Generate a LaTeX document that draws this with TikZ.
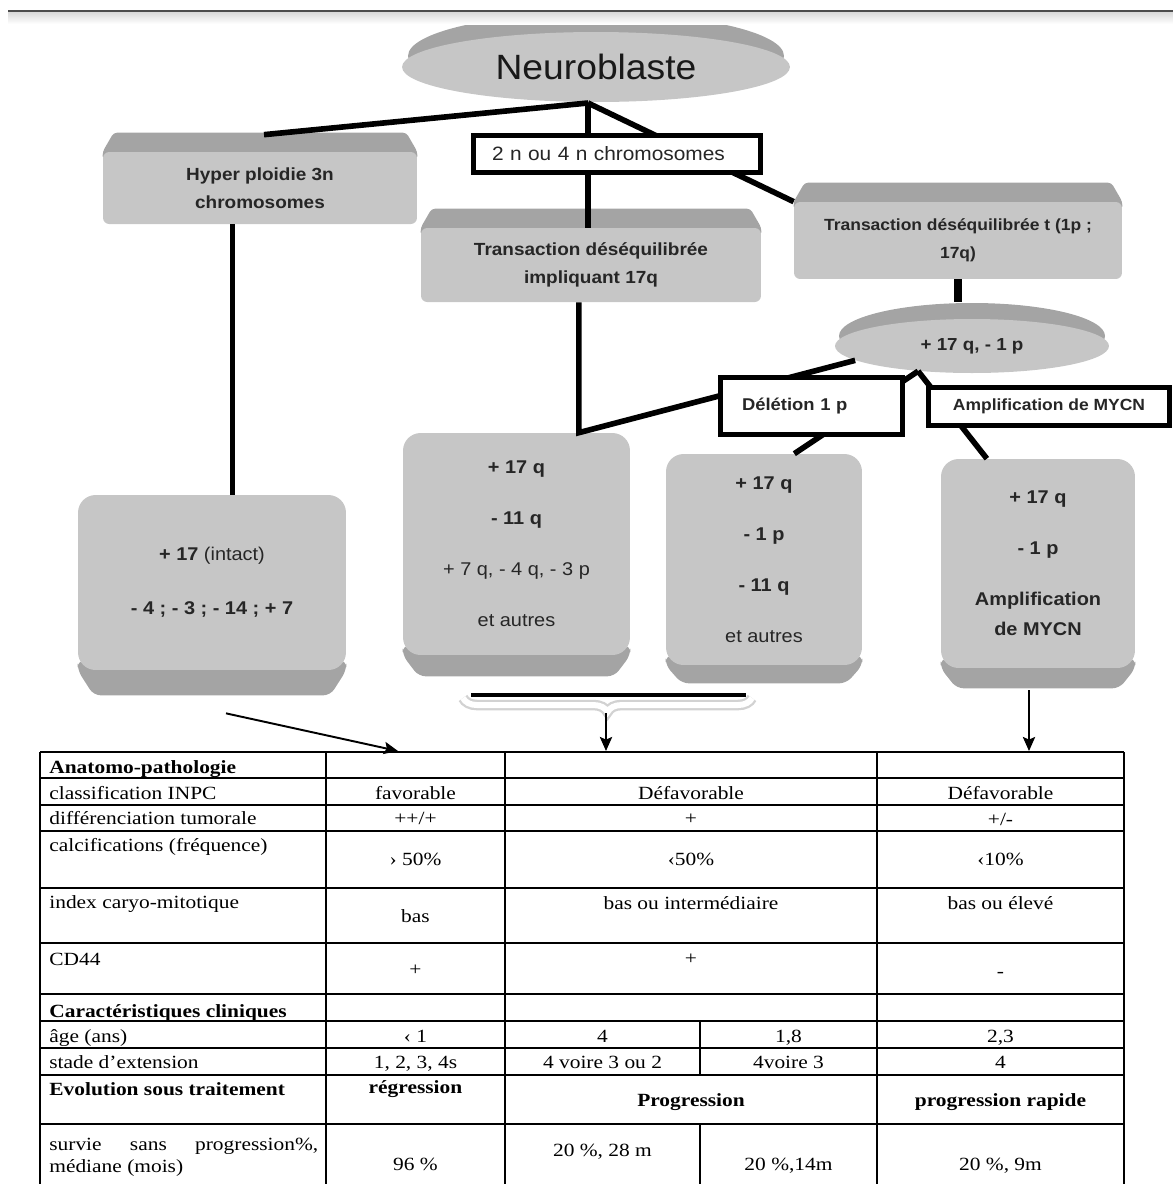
\documentclass[tikz,border=0pt]{standalone}
\usepackage{fontspec}
\setmainfont{Liberation Serif}
\newfontfamily\tabfont{Liberation Serif}[FakeStretch=1.15]
\newfontfamily\boxfont{Liberation Sans}[FakeStretch=1.08]
\newfontfamily\headfont{Liberation Sans}[FakeStretch=1.06]
\usetikzlibrary{arrows.meta, shapes.geometric, decorations.pathreplacing, calc}

\definecolor{bodygrey}{HTML}{C6C6C6}
\definecolor{capgrey}{HTML}{A4A4A4}
\definecolor{inkgrey}{HTML}{262626}

\pgfdeclarelayer{back}
\pgfsetlayers{back,main}

\newcommand{\topcap}[1]{%
  \fill[capgrey, rounded corners=2pt] ([shift={(11,-19)}]#1.north west) -- ([shift={(-11,-19)}]#1.north east)
    -- (#1.north east) -- ([shift={(0,8)}]#1.north east) -- ([shift={(0,8)}]#1.north west) -- (#1.north west) -- cycle;}
\newcommand{\footcap}[2]{%
  \fill[capgrey, rounded corners=4pt] ([shift={(0,-10)}]#1.south west) -- ([shift={(0,-10)}]#1.south east)
    -- (#1.south east) -- ([shift={(-16,#2)}]#1.south east) -- ([shift={(16,#2)}]#1.south west) -- (#1.south west) -- cycle;}

\tikzset{
  link/.style={line width=3.2pt},
  arr/.style={line width=1.1pt, -{Stealth[length=8pt, width=7pt, inset=1.5pt]}},
  rule/.style={line width=1.1pt},
  capbox/.style={rectangle, fill=bodygrey, rounded corners=3.5pt, inner sep=0pt, align=center, text=inkgrey,
    font=\boxfont\bfseries\fontsize{10}{16}\selectfont},
  blockbox/.style={rectangle, fill=bodygrey, rounded corners=10pt, inner sep=0pt, align=center, text=inkgrey,
    font=\boxfont\fontsize{10.5}{29}\selectfont},
  tagbox/.style={rectangle, draw, line width=2.8pt, fill=white, inner ysep=0pt, text=inkgrey},
  lcell/.style={anchor=base west, inner sep=0pt, font=\tabfont\fontsize{10.6}{13}\selectfont},
  hcell/.style={lcell, font=\tabfont\bfseries\fontsize{10.6}{13}\selectfont},
  ccell/.style={anchor=base, inner sep=0pt, font=\tabfont\fontsize{10.6}{13}\selectfont},
  bcell/.style={ccell, font=\tabfont\bfseries\fontsize{10.6}{13}\selectfont},
}

\begin{document}
\begin{tikzpicture}[x=0.02cm, y=-0.02cm]
\useasboundingbox (0,0) rectangle (1173,1184);
\shade[top color=gray!30, bottom color=white] (8,12) rectangle (1173,24);
\draw[gray!60!black, line width=1.5pt] (8,11) -- (1173,11);

\node[ellipse, fill=bodygrey, minimum width=7.76cm, minimum height=1.4cm, inner sep=0pt, text=black!90,
  font=\headfont\fontsize{20}{24}\selectfont] (neuro) at (596,67) {Neuroblaste};
\node[capbox, minimum width=6.28cm, minimum height=1.44cm] (hyper) at (260,188) {Hyper ploidie 3n\\chromosomes};
\node[capbox, minimum width=6.8cm, minimum height=1.48cm] (trans17) at (591,265) {Transaction déséquilibrée\\impliquant 17q};
\node[capbox, minimum width=6.56cm, minimum height=1.54cm, font=\boxfont\bfseries\fontsize{9.2}{16}\selectfont] (transT) at (958,240.5) {Transaction déséquilibrée t (1p ;\\17q)};
\node[ellipse, fill=bodygrey, minimum width=5.48cm, minimum height=1.08cm, inner sep=0pt, text=inkgrey,
  font=\boxfont\bfseries\fontsize{9.9}{12}\selectfont] (sm) at (972,346) {+ 17 q, - 1 p};

\node[blockbox, minimum width=5.36cm, minimum height=3.5cm] (chr17) at (212,582.5) {\textbf{+ 17} (intact)\\[2pt]\textbf{- 4 ; - 3 ; - 14 ; + 7}};
\node[blockbox, minimum width=4.54cm, minimum height=4.44cm] (q11) at (516.5,544) {\textbf{+ 17 q}\\\textbf{- 11 q}\\+ 7 q, - 4 q, - 3 p\\et autres};
\node[blockbox, minimum width=3.92cm, minimum height=4.22cm] (p1) at (764,559.5) {\textbf{+ 17 q}\\\textbf{- 1 p}\\\textbf{- 11 q}\\et autres};
\node[blockbox, minimum width=3.88cm, minimum height=4.18cm] (mycn) at (1038,563.5) {\textbf{+ 17 q}\\\textbf{- 1 p}\\\textbf{Amplification}\\[-12pt]\textbf{de MYCN}};

\begin{pgfonlayer}{back}
  \fill[capgrey] ([shift={(0,-11)}]neuro.center) ellipse [x radius=188, y radius=43];
  \fill[capgrey] ([shift={(0,-10)}]sm.center) ellipse [x radius=133, y radius=33];
  \topcap{hyper} \topcap{trans17} \topcap{transT}
  \footcap{chr17}{25} \footcap{q11}{21} \footcap{p1}{18} \footcap{mycn}{20}
\end{pgfonlayer}

\coordinate (root) at (588,103);
\draw[link] (root) -- ([shift={(4,-17)}]hyper.north);
\draw[link] (root) -- (root |- trans17.north);
\draw[link] (root) -- (transT.north west);
\draw[link] (hyper.233) -- (hyper.233 |- chr17.north);
\draw[link] (trans17.252) -- (trans17.252 |- q11.north) -- (sm.187);
\draw[link, line width=4.5pt] (transT.south) -- ++(0,23);
\draw[link] (sm.205) -- (p1.74);
\draw[link] (sm.205) -- (mycn.116);

\node[tagbox, text width=5cm, inner xsep=0.37cm, minimum height=0.74cm, align=left,
  font=\boxfont\fontsize{11}{13}\selectfont] (ploid2) at (617,154) {2 n ou 4 n chromosomes};
\node[tagbox, text width=2.78cm, inner xsep=0.43cm, minimum height=1.14cm, align=left,
  font=\boxfont\bfseries\fontsize{9.7}{12}\selectfont] (del) at (811.5,406) {Délétion 1 p};
\node[tagbox, minimum width=4.83cm, minimum height=0.76cm, align=center,
  font=\boxfont\bfseries\fontsize{9.2}{12}\selectfont] (amp) at (1049,406.5) {Amplification de MYCN};

\coordinate (bl) at (463,698);
\coordinate (br) at (752,698);
\coordinate (btip) at (606,713);
\draw[decorate, decoration={brace, mirror, amplitude=8pt}, line width=6pt, gray!35] (bl) -- (br);
\draw[decorate, decoration={brace, mirror, amplitude=8pt}, line width=3.4pt, white] (bl) -- (br);
\draw[line width=2.2pt] ([shift={(8,-3)}]bl) -- ([shift={(-6,-3)}]br);

\coordinate (h2) at (398,751);
\coordinate (h3) at (606,751);
\coordinate (h4) at (1029,751);
\draw[arr] ([shift={(14,43)}]chr17.south) -- (h2);
\draw[arr] (btip) -- (h3);
\draw[arr] ([shift={(-9,22)}]mycn.south) -- (h4);

\foreach \y in {752,778,805,831,888,943,994,1021,1048,1075,1124}
  \draw[rule] (40,\y) -- (1124,\y);
\foreach \x in {40,326,505,877,1124}
  \draw[rule] (\x,752) -- (\x,1190);
\draw[rule] (700,1021) -- (700,1075) (700,1124) -- (700,1190);

\node[hcell] (anat) at (49,773) {Anatomo-pathologie};
\node[lcell] (inpc) at (49,799) {classification INPC};
\node[lcell] (diff) at (49,824) {différenciation tumorale};
\node[lcell] (calc) at (49,851) {calcifications (fréquence)};
\node[lcell] (index) at (49,908) {index caryo-mitotique};
\node[lcell] (cd) at (49,965) {CD44};
\node[hcell] (clin) at (49,1017) {Caractéristiques cliniques};
\node[lcell] (age) at (49,1042) {âge (ans)};
\node[lcell] (stade) at (49,1068) {stade d’extension};
\node[hcell] (evol) at (49,1095) {Evolution sous traitement};
\node[lcell, text width=5.38cm, align=justify] (surv) at (49,1150) {survie sans progression\%,\linebreak médiane (mois)};

\node[ccell] (inpc2) at (415.5,799) {favorable};
\node[ccell] (diff2) at (415.5,824) {++/+};
\node[ccell] (calc2) at (415.5,865) {› 50\%};
\node[ccell] (index2) at (415.5,922) {bas};
\node[ccell] (cd2) at (415.5,975) {+};
\node[ccell] (age2) at (415.5,1042) {‹ 1};
\node[ccell] (stade2) at (415.5,1068) {1, 2, 3, 4s};
\node[bcell] (evol2) at (415.5,1093) {régression};
\node[ccell] (surv2) at (415.5,1170) {96 \%};

\node[ccell] (inpc3) at (691,799) {Défavorable};
\node[ccell] (diff3) at (691,824) {+};
\node[ccell] (calc3) at (691,865) {‹50\%};
\node[ccell] (index3) at (691,909) {bas ou intermédiaire};
\node[ccell] (cd3) at (691,964) {+};
\node[bcell] (evol3) at (691,1106) {Progression};
\node[ccell] (age3) at (602.5,1042) {4};
\node[ccell] (stade3) at (602.5,1068) {4 voire 3 ou 2};
\node[ccell] (surv3) at (602.5,1156) {20 \%, 28 m};
\node[ccell] (age3b) at (788.5,1042) {1,8};
\node[ccell] (stade3b) at (788.5,1068) {4voire 3};
\node[ccell] (surv3b) at (788.5,1170) {20 \%,14m};

\node[ccell] (inpc4) at (1000.5,799) {Défavorable};
\node[ccell] (diff4) at (1000.5,825) {+/-};
\node[ccell] (calc4) at (1000.5,865) {‹10\%};
\node[ccell] (index4) at (1000.5,909) {bas ou élevé};
\node[ccell] (cd4) at (1000.5,977) {-};
\node[ccell] (age4) at (1000.5,1042) {2,3};
\node[ccell] (stade4) at (1000.5,1068) {4};
\node[bcell] (evol4) at (1000.5,1106) {progression rapide};
\node[ccell] (surv4) at (1000.5,1170) {20 \%, 9m};
\end{tikzpicture}
\end{document}
